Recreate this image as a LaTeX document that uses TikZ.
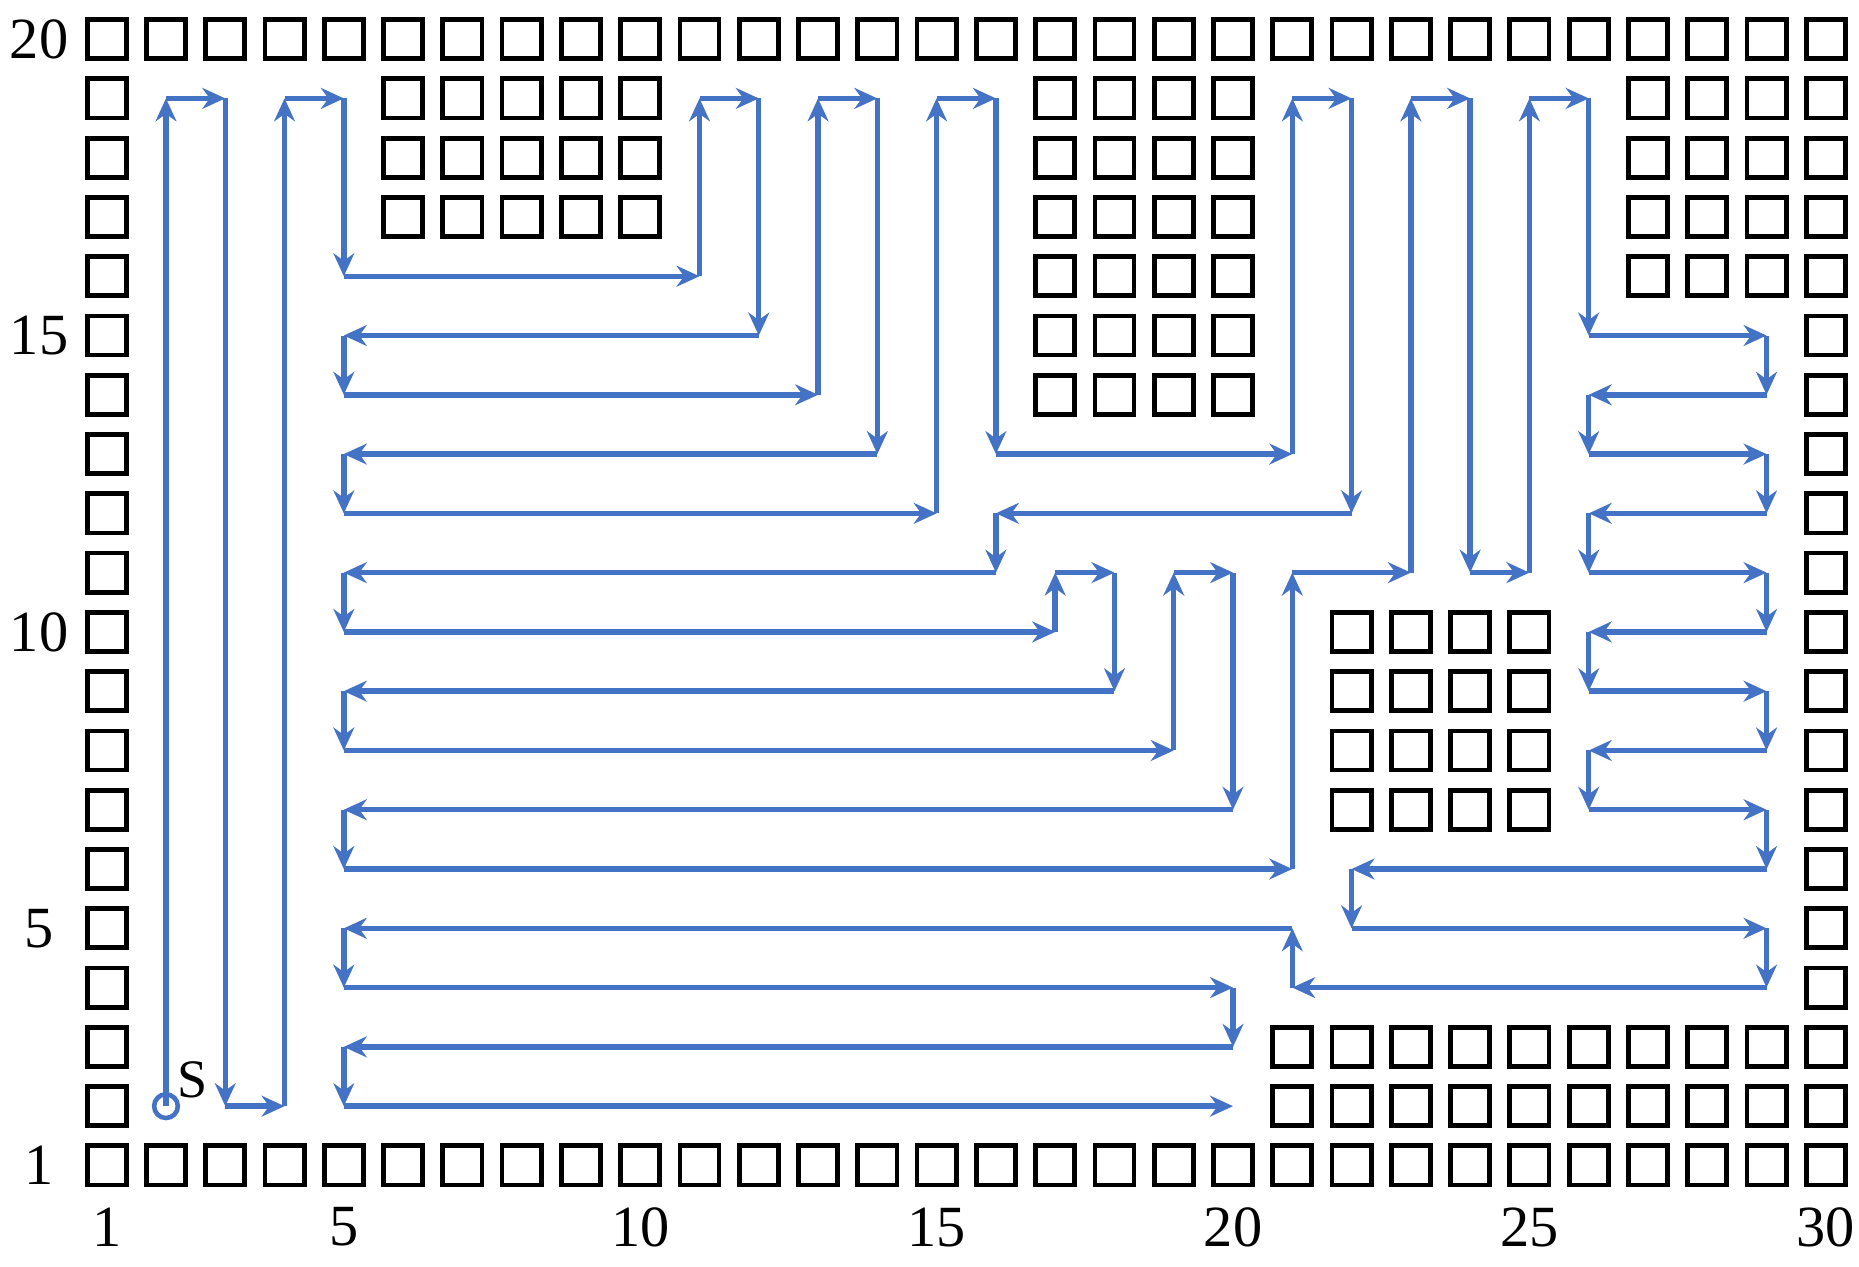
\documentclass[tikz,border=0pt]{standalone}
\usepackage{fontspec}
\setmainfont{Liberation Serif}
\usetikzlibrary{arrows.meta}
\definecolor{pathblue}{HTML}{4472C4}
\tikzset{
  cell/.style={draw=black,line width=2.3pt,minimum size=0.66cm,inner sep=0pt,fill=white},
  arr/.style={draw=pathblue,line width=2.6pt,-{Stealth[length=11pt,width=10pt]}},
  lab/.style={font=\fontsize{28}{30}\selectfont,inner sep=0pt}
}
\begin{document}
\begin{tikzpicture}[x=1cm,y=1cm]
\useasboundingbox (-0.8,-0.7) rectangle (30.56,20.66);
% border
\foreach \c in {1,...,30}{\node[cell] (b\c) at (\c,1) {}; \node[cell] (t\c) at (\c,20) {};}
\foreach \r in {2,...,19}{\node[cell] (l\r) at (1,\r) {}; \node[cell] (r\r) at (30,\r) {};}
% obstacles
\foreach \c in {6,...,10}\foreach \r in {17,18,19}{\node[cell] (oa\c-\r) at (\c,\r) {};}
\foreach \c in {17,...,20}\foreach \r in {14,...,19}{\node[cell] (ob\c-\r) at (\c,\r) {};}
\foreach \c in {27,...,29}\foreach \r in {16,...,19}{\node[cell] (oc\c-\r) at (\c,\r) {};}
\foreach \c in {22,...,25}\foreach \r in {7,...,10}{\node[cell] (od\c-\r) at (\c,\r) {};}
\foreach \c in {21,...,29}\foreach \r in {2,3}{\node[cell] (oe\c-\r) at (\c,\r) {};}
% labels
\foreach \r in {1,5,10,15,20}{\node[lab] (rl\r) at (-0.14,\r) {\r};}
\foreach \c in {1,5,10,15,20,25,30}{\node[lab] (cl\c) at (\c,-0.04) {\c};}
% start
\node[draw=pathblue,line width=2.2pt,circle,minimum size=0.4cm,inner sep=0pt] (S) at (2,2) {};
\node[font=\fontsize{26}{28}\selectfont,inner sep=0pt] (Slab) at (2.45,2.45) {S};
% path
\coordinate (p0) at (2,2);
\foreach \px/\py [count=\i] in {
 2/19,3/19,3/2,4/2,4/19,5/19,5/16,11/16,11/19,12/19,12/15,5/15,5/14,
 13/14,13/19,14/19,14/13,5/13,5/12,15/12,15/19,16/19,16/13,21/13,21/19,
 22/19,22/12,16/12,16/11,5/11,5/10,17/10,17/11,18/11,18/9,5/9,5/8,19/8,
 19/11,20/11,20/7,5/7,5/6,21/6,21/11,23/11,23/19,24/19,24/11,25/11,25/19,
 26/19,26/15,29/15,29/14,26/14,26/13,29/13,29/12,26/12,26/11,29/11,29/10,
 26/10,26/9,29/9,29/8,26/8,26/7,29/7,29/6,22/6,22/5,29/5,29/4,21/4,21/5,
 5/5,5/4,20/4,20/3,5/3,5/2,20/2}{
  \pgfmathtruncatemacro{\j}{\i-1}
  \coordinate (p\i) at (\px,\py);
  \draw[arr] (p\j) -- (p\i);
}
\end{tikzpicture}
\end{document}
